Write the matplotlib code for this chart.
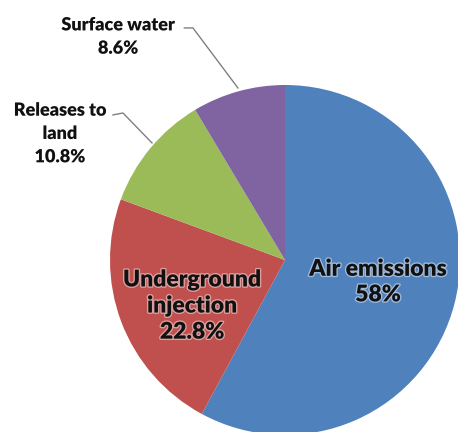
import matplotlib
matplotlib.use("Agg")
import matplotlib.pyplot as plt
import matplotlib.patheffects as pe

# release shares (%), clockwise from 12 o'clock
labels = ["Air emissions", "Underground\ninjection", "Releases to\nland", "Surface water"]
values = [58.0, 22.8, 10.8, 8.6]
pct_text = ["58%", "22.8%", "10.8%", "8.6%"]
colors = ["#4F81BD", "#C0504D", "#9BBB59", "#8064A2"]

plt.rcParams['font.family'] = ['Lato', 'DejaVu Sans']

fig = plt.figure(figsize=(4.58, 4.32), dpi=100)
ax = fig.add_axes([110 / 458, -3 / 432, 350 / 458, 350 / 432])
ax.pie(values, colors=colors, startangle=90, counterclock=False,
       radius=1, wedgeprops=dict(linewidth=0))
ax.set_xlim(-1, 1)
ax.set_ylim(-1, 1)
ax.set_aspect('equal')
ax.axis('off')

glow = [pe.withStroke(linewidth=2, foreground='white', alpha=0.45)]
txt = dict(ha='center', va='center', fontweight='heavy', color='#111111',
           clip_on=False, path_effects=glow, multialignment='center')

# inside labels
ax.text(0.531, -0.126, labels[0] + "\n" + pct_text[0], fontsize=16.5,
        linespacing=1.27, **txt)
ax.text(-0.531, -0.263, labels[1] + "\n" + pct_text[1], fontsize=16.5,
        linespacing=1.3, **txt)

# outside labels with leader lines
ax.text(-1.286, 0.723, labels[2] + "\n" + pct_text[2], fontsize=13,
        linespacing=1.45, **txt)
ax.text(-0.954, 1.277, labels[3] + "\n" + pct_text[3], fontsize=13,
        linespacing=1.45, **txt)

lead = dict(color='#808080', lw=1, clip_on=False)
ax.plot([-0.983, -0.926, -0.76], [0.829, 0.84, 0.669], **lead)
ax.plot([-0.575, -0.526, -0.269], [1.326, 1.326, 0.983], **lead)

fig.savefig("out.png", dpi=100)
